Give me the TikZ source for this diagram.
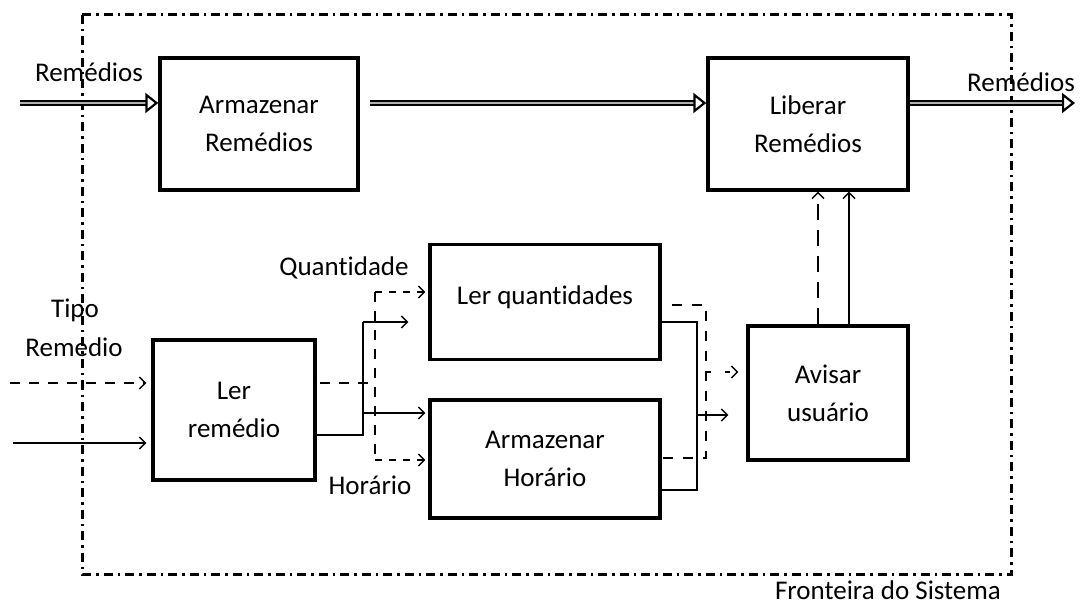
\documentclass[tikz,border=0pt]{standalone}
\usepackage{fontspec}
\setmainfont{Carlito}[Ligatures=NoCommon]
\usetikzlibrary{arrows.meta}
\begin{document}
\begin{tikzpicture}[x=1pt,y=-1pt,
  txt/.style={font=\fontsize{27}{36}\selectfont, inner sep=0pt, align=center},
  box/.style={draw, line width=3.4pt, inner sep=0pt, align=center, font=\fontsize{27}{38}\selectfont},
  wire/.style={line width=1.3pt},
  dwire/.style={line width=1.3pt, dash pattern=on 10pt off 9pt},
  tip/.style={-{Straight Barb[length=6pt,width=12pt,line width=1.3pt]}},
  fat/.style={double=gray!60, double distance=1.4pt, line width=2.4pt, -{Triangle[open, length=13pt, width=20pt, line width=2.2pt]}},
  border/.style={line width=3pt, dash pattern=on 9pt off 5pt on 2.5pt off 5pt}]
\useasboundingbox (0,0) rectangle (1080,604);
\fill[white] (0,0) rectangle (1080,604);
% boundary
\draw[border] (82,15) rectangle (1011,574);
% boxes
\node[box, minimum width=198pt, minimum height=132pt] (arm) at (259,124) {Armazenar\\Remédios};
\node[box, minimum width=200pt, minimum height=132pt] (lib) at (808,124) {Liberar\\Remédios};
\node[box, minimum width=230pt, minimum height=115pt] (lq) at (545,302) {};
\node[txt] (lqt) at (545,297) {Ler quantidades};
\node[box, minimum width=230pt, minimum height=118pt] (ah) at (545,459) {Armazenar\\Horário};
\node[box, minimum width=162pt, minimum height=140pt] (lr) at (234,410) {Ler\\remédio};
\node[box, minimum width=160pt, minimum height=134pt] (au) at (828,393) {Avisar\\usuário};
% labels
\node[txt] (l1) at (89,72) {Remédios};
\node[txt] (l2) at (1021,82) {Remédios};
\node[txt] (l3) at (344,268) {Quantidade};
\node[txt] (l4) at (75,310) {Tipo};
\node[txt] (l5) at (74,347) {Remedio};
\node[txt] (l6) at (370,485) {Horário};
\node[txt, anchor=base] (l7) at (888,599) {Fronteira do Sistema};
% coordinates
\coordinate (inA) at (20,103);
\coordinate (outA) at (1075,103);
\coordinate (inT) at (10,383);
\coordinate (inS) at (13,443);
\coordinate (j1) at (363,435);
\coordinate (j1t) at (363,322);
\coordinate (j1m) at (363,413);
\coordinate (d1t) at (375,292);
\coordinate (d1m) at (375,383);
\coordinate (d1b) at (375,460);
\coordinate (j2t) at (697,322);
\coordinate (j2m) at (697,415);
\coordinate (j2b) at (697,490);
\coordinate (d2t) at (706,305);
\coordinate (d2m) at (706,372);
\coordinate (d2b) at (706,458);
% thick flows
\draw[fat] (inA) -- (inA -| arm.west);
\draw[fat, shorten <=10pt] (inA -| arm.east) -- (inA -| lib.west);
\draw[fat] (inA -| lib.east) -- (outA);
% inputs to Ler remedio
\draw[dwire, tip, shorten >=5pt] (inT) -- (inT -| lr.west);
\draw[wire, tip, shorten >=5pt] (inS) -- (inS -| lr.west);
% solid out of Ler remedio
\draw[wire] (lr.east |- j1) -- (j1) -- (j1t);
\draw[wire, tip, shorten >=20pt] (j1t) -- (j1t -| lq.west);
\draw[wire, tip, shorten >=3pt] (j1m) -- (j1m -| ah.west);
% dashed out of Ler remedio
\draw[dwire, shorten <=3pt] (lr.east |- d1m) -- (d1m);
\draw[dwire] (d1t) -- (d1b);
\draw[dwire, tip, shorten >=3pt, dash pattern=on 7pt off 7pt] (d1t) -- (d1t -| lq.west);
\draw[dwire, tip, shorten >=3pt, dash pattern=on 7pt off 7pt] (d1b) -- (d1b -| ah.west);
% merge to Avisar
\draw[wire] (lq.east |- j2t) -- (j2t) -- (j2b) -- (ah.east |- j2b);
\draw[wire, tip, shorten >=18pt] (j2m) -- (j2m -| au.west);
\draw[dwire, dash pattern=on 10pt off 10pt, shorten <=10pt] (lq.east |- d2t) -- (d2t) -- (d2b) -- (ah.east |- d2b);
\draw[dwire, tip, shorten >=8pt, dash pattern=on 5pt off 14pt] (d2m) -- (d2m -| au.west);
% up to Liberar
\draw[dwire, tip, dash pattern=on 16pt off 10pt] (au.north -| 818,0) -- (lib.south -| 818,0);
\draw[wire, tip] (au.north -| 849,0) -- (lib.south -| 849,0);
\end{tikzpicture}
\end{document}
